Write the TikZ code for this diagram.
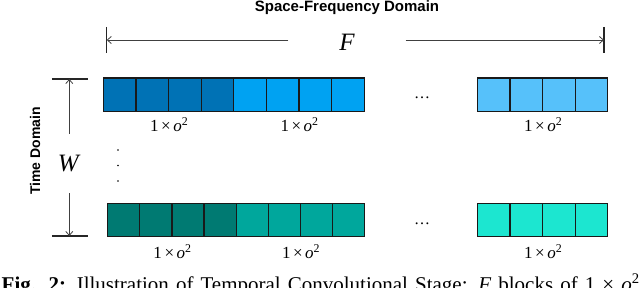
\documentclass[tikz,border=0pt]{standalone}
\usepackage{fontspec}
\setmainfont{Liberation Serif}
\setsansfont{Liberation Sans}
\usetikzlibrary{positioning}
\usetikzlibrary{calc}
\usetikzlibrary{arrows.meta}
\definecolor{blueD}{RGB}{0,114,181}
\definecolor{blueM}{RGB}{0,162,242}
\definecolor{blueL}{RGB}{86,193,250}
\definecolor{tealD}{RGB}{0,122,114}
\definecolor{tealM}{RGB}{0,167,156}
\definecolor{tealL}{RGB}{28,230,208}

\begin{document}
\begin{tikzpicture}[x=1pt,y=-1pt,
  cell/.style={draw=black!90, line width=1.3pt, minimum width=\cw pt,
               minimum height=\ch pt, inner sep=0pt, anchor=north west},
  cellb/.style={cell, minimum width=\cwb pt},
  lab/.style={inner sep=0pt, font=\fontsize{17}{17}\selectfont},
  biglab/.style={inner sep=0pt, font=\fontsize{25}{25}\selectfont},
  axlab/.style={inner sep=0pt, font=\sffamily\bfseries\fontsize{14}{14}\selectfont},
  arr/.style={-{Straight Barb[length=4pt,width=7pt]}, line width=0.8pt, black!75},
  bar/.style={line width=1.3pt, black!85}]

%---------------------------------------
% Canvas
%---------------------------------------
\useasboundingbox (0,0) rectangle (640,288);
\clip (0,0) rectangle (640,288);

%---------------------------------------
% Geometry
%---------------------------------------
\def\Xa{102.7}   % first group, top row
\def\Xc{107.0}   % first group, bottom row
\def\Xb{476.7}   % last group
\def\Yt{77.3}    % top row
\def\Yb{202.7}   % bottom row
\def\cw{32.6}
\def\cwb{32.13}
\def\ch{33.3}
\def\blocklab{1\hspace{0.15em}×\hspace{0.15em}\textit{o}\textsuperscript{2}}

%---------------------------------------
% Top row (first time step)
%---------------------------------------
\foreach \i in {0,...,3}
  \node[cell, fill=blueD] (t\i) at ({\Xa+\i*\cw},\Yt) {};
\foreach \i in {4,...,7}
  \node[cell, fill=blueM] (t\i) at ({\Xa+\i*\cw},\Yt) {};
\foreach \i in {0,...,3}
  \node[cell, fill=blueL] (tr\i) at ({\Xb+\i*\cw},\Yt) {};

\node[lab] (lt1) at ($(t1.south east)+(0,13)$) {\blocklab};
\node[lab] (lt2) at ($(t5.south east)+(0,13)$) {\blocklab};
\node[lab] (lt3) at ($(tr1.south east)+(0,13)$) {\blocklab};
\node[lab, font=\fontsize{16}{16}\selectfont] (dt) at (422,98) {…};

%---------------------------------------
% Bottom row (last time step)
%---------------------------------------
\foreach \i in {0,...,3}
  \node[cellb, fill=tealD] (b\i) at ({\Xc+\i*\cwb},\Yb) {};
\foreach \i in {4,...,7}
  \node[cellb, fill=tealM] (b\i) at ({\Xc+\i*\cwb},\Yb) {};
\foreach \i in {0,...,3}
  \node[cell, fill=tealL] (br\i) at ({\Xb+\i*\cw},\Yb) {};

\node[lab] (lb1) at ($(b1.south east)+(0,14)$) {\blocklab};
\node[lab] (lb2) at ($(b5.south east)+(0,14)$) {\blocklab};
\node[lab] (lb3) at ($(br1.south east)+(0,14)$) {\blocklab};
\node[lab, font=\fontsize{16}{16}\selectfont] (db) at (422,224) {…};

% vertical dots between rows
\foreach \y in {150,165.5,181}
  \fill (118,\y) circle (0.8pt);

%---------------------------------------
% Space-frequency axis: F
%---------------------------------------
\node[axlab, font=\sffamily\bfseries\fontsize{15}{15}\selectfont, anchor=base]
  (sfd) at (347,11.5) {Space-Frequency Domain};
\coordinate (Fl) at (106.7,40);
\coordinate (Fr) at (604,40);
\draw[bar] ($(Fl)+(0,-13)$) -- ($(Fl)+(0,13)$);
\draw[bar] ($(Fr)+(0,-13)$) -- ($(Fr)+(0,13)$);
\node[biglab, minimum width=117pt] (Fn) at (347,42) {\textit{F}};
\draw[arr] (Fn.west |- Fl) -- (Fl);
\draw[arr] (Fn.east |- Fr) -- (Fr);

%---------------------------------------
% Time axis: W
%---------------------------------------
\node[axlab, rotate=90] (td) at (35,151) {Time Domain};
\coordinate (Wt) at (69.3,79);
\coordinate (Wb) at (69.3,236);
\draw[bar] ($(Wt)+(-17.5,0)$) -- ($(Wt)+(18.5,0)$);
\draw[bar] ($(Wb)+(-17.5,0)$) -- ($(Wb)+(18.5,0)$);
\node[biglab, minimum height=59pt] (Wn) at (69.3,163.5) {\textit{W}};
\draw[arr] (Wn.north) -- (Wt);
\draw[arr] (Wn.south) -- (Wb);

%---------------------------------------
% Caption (cut at the lower edge)
%---------------------------------------
\node[anchor=base west, inner sep=0pt, font=\fontsize{21}{22}\selectfont]
  (cap) at (1.5,291.5) {\makebox[638pt][s]{\textbf{Fig. 2:} Illustration of Temporal
  Convolutional Stage: \textit{F} blocks of 1 × \textit{o}\textsuperscript{2}}};

\end{tikzpicture}
\end{document}
